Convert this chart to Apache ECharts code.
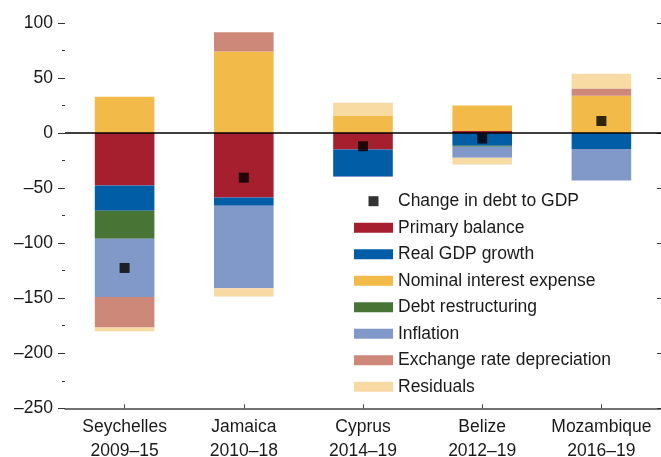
<!DOCTYPE html>
<html>
<head>
<meta charset="utf-8">
<script src="https://cdn.jsdelivr.net/npm/echarts@6/dist/echarts.min.js"></script>
<style>
  html, body { margin: 0; padding: 0; background: #fff; }
  #chart { width: 661px; height: 457px; }
</style>
</head>
<body>
<div id="chart"></div>
<script>
const categories = ['Seychelles\n2009–15', 'Jamaica\n2010–18', 'Cyprus\n2014–19', 'Belize\n2012–19', 'Mozambique\n2016–19'];
const primaryBalance = [-47.5, -58.5, -15, 2, 0];
const realGdpGrowth = [-23, -7.5, -24, -11.5, -14.5];
const nominalInterest = [33, 74, 16, 23, 34];
const debtRestructuring = [-25.5, 0, 0, -1, 0];
const inflation = [-53, -75, -1, -10, -28.5];
const exchangeRate = [-27.5, 17.5, 0, 0, 6.5];
const residuals = [-3.5, -7.5, 11.5, -6, 13.5];
const changeInDebt = [-122.5, -40.5, -12, -5, 11];

const FONT = "'Liberation Sans', Arial, sans-serif";
const FS = 17.5;

const chart = echarts.init(document.getElementById('chart'));

function barSeries(name, data, color) {
  return {
    name: name,
    type: 'bar',
    stack: 'total',
    barWidth: '50%',
    itemStyle: { color: color },
    data: data
  };
}

const series = [
  barSeries('Primary balance', primaryBalance, '#A61F2E'),
  barSeries('Real GDP growth', realGdpGrowth, '#005DA6'),
  barSeries('Nominal interest expense', nominalInterest, '#F2BA48'),
  barSeries('Debt restructuring', debtRestructuring, '#487536'),
  barSeries('Inflation', inflation, '#8199C9'),
  barSeries('Exchange rate depreciation', exchangeRate, '#CD887A'),
  barSeries('Residuals', residuals, '#F8DAA3')
];
// zero line
series[0].markLine = {
  silent: true,
  symbol: 'none',
  label: { show: false },
  lineStyle: { color: '#000', width: 1.5, type: 'solid' },
  data: [{ yAxis: 0 }]
};
series.push({
  name: 'Change in debt to GDP',
  type: 'scatter',
  symbol: 'rect',
  symbolSize: 10,
  itemStyle: { color: '#000' },
  z: 10,
  data: changeInDebt
});

const option = {
  backgroundColor: '#fff',
  animation: false,
  textStyle: { fontFamily: FONT },
  grid: { left: 65, right: 0, top: 23, bottom: 48.7, outerBoundsMode: 'none', containLabel: false },
  legend: {
    orient: 'vertical',
    left: 354,
    top: 191.2,
    padding: 0,
    itemWidth: 39,
    itemHeight: 10,
    itemGap: 6.5,
    symbolKeepAspect: true,
    textStyle: { fontFamily: FONT, fontSize: FS, color: '#1a1a1a', lineHeight: 20 },
    data: [
      { name: 'Change in debt to GDP', icon: 'path://M0,0H10V10H0Z' },
      { name: 'Primary balance', icon: 'rect' },
      { name: 'Real GDP growth', icon: 'rect' },
      { name: 'Nominal interest expense', icon: 'rect' },
      { name: 'Debt restructuring', icon: 'rect' },
      { name: 'Inflation', icon: 'rect' },
      { name: 'Exchange rate depreciation', icon: 'rect' },
      { name: 'Residuals', icon: 'rect' }
    ]
  },
  xAxis: {
    type: 'category',
    data: categories,
    axisLine: { show: true, onZero: false, lineStyle: { color: '#444', width: 1.5 } },
    axisTick: { show: true, inside: true, alignWithLabel: true, length: 4, lineStyle: { color: '#444' } },
    axisLabel: { interval: 0, fontFamily: FONT, fontSize: FS, color: '#1a1a1a', lineHeight: 24, margin: 6.5 }
  },
  yAxis: [
    {
      type: 'value',
      min: -250,
      max: 100,
      interval: 50,
      position: 'left',
      splitLine: { show: false },
      axisLine: { show: false },
      axisTick: { show: true, length: 7, lineStyle: { color: '#333' } },
      minorTick: { show: true, splitNumber: 2, length: 3, lineStyle: { color: '#333' } },
      axisLabel: {
        fontFamily: FONT, fontSize: FS, color: '#1a1a1a', margin: 12,
        formatter: function (v) { return String(v).replace('-', '–'); }
      }
    },
    {
      type: 'value',
      min: -250,
      max: 100,
      interval: 50,
      position: 'right',
      splitLine: { show: false },
      axisLine: { show: false },
      axisTick: { show: true, inside: true, length: 4, lineStyle: { color: '#333' } },
      axisLabel: { show: false }
    }
  ],
  series: series
};

chart.setOption(option);
</script>
</body>
</html>
